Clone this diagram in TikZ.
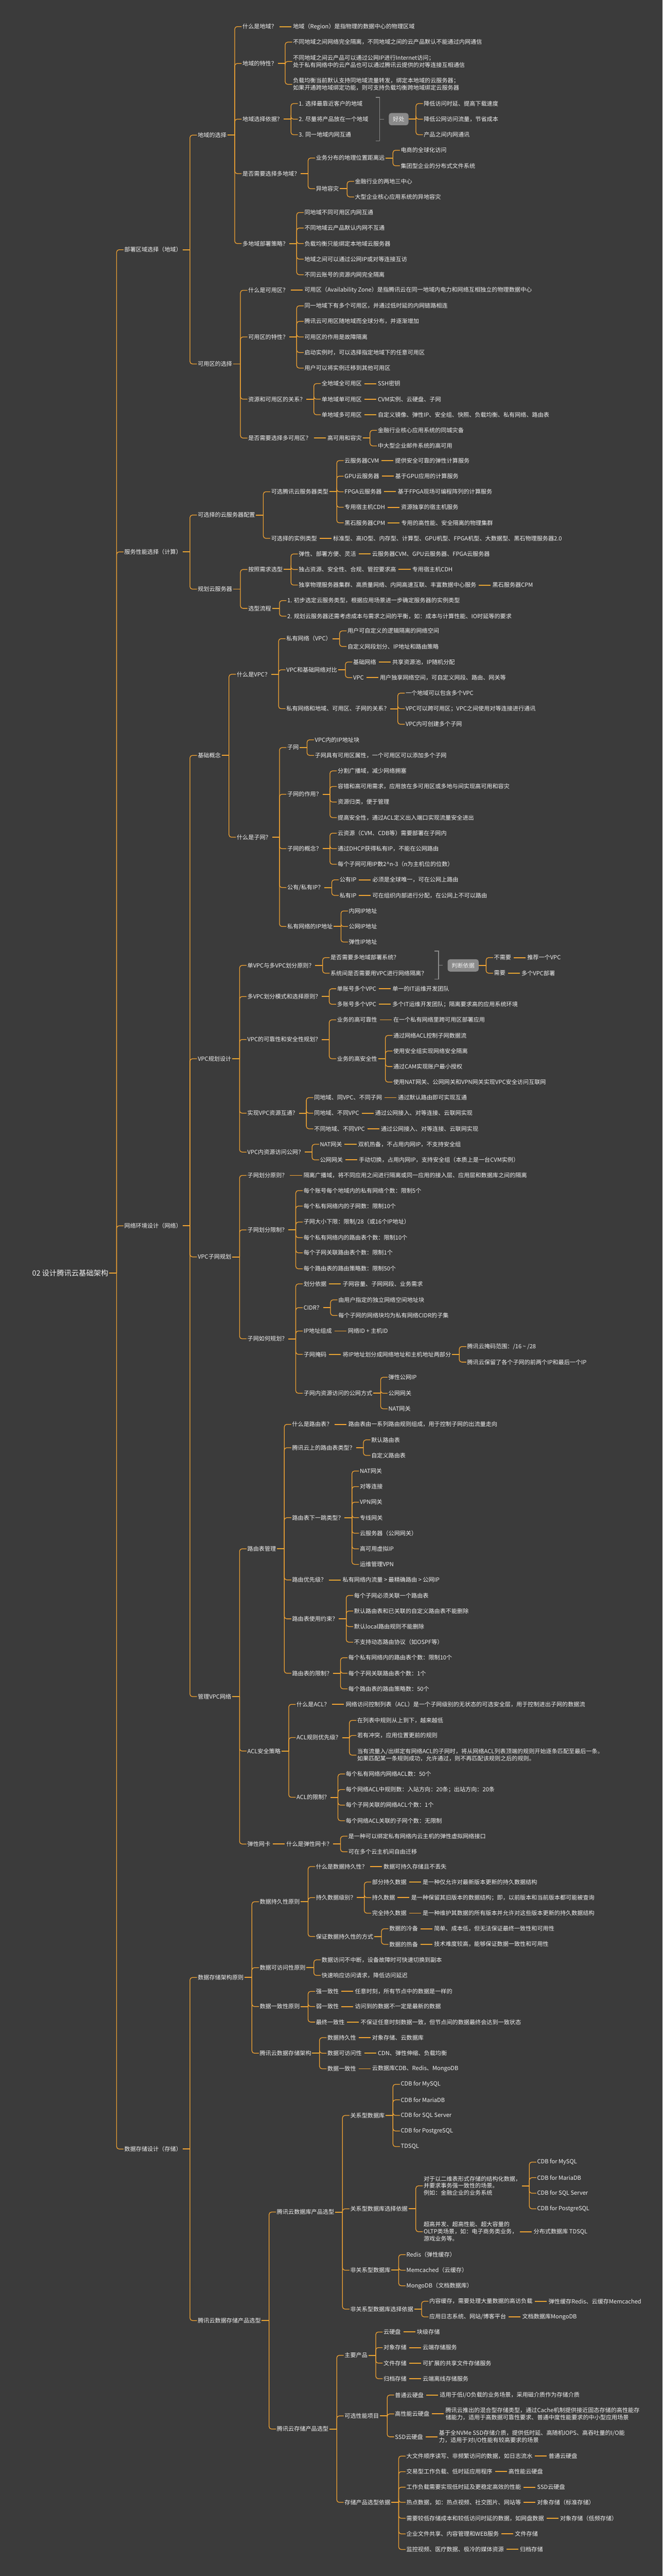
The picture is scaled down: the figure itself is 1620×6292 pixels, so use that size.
\documentclass[tikz,border=0pt]{standalone}
\usepackage{fontspec}
\newfontfamily\cjk{Noto Sans CJK SC}
\definecolor{bgc}{HTML}{3B3B3B}
\definecolor{linkc}{HTML}{F5A533}
\definecolor{txtc}{HTML}{F2F2F2}
\definecolor{sumc}{HTML}{8A8A8A}
\tikzset{
topic/.style={ % Every text of the map
anchor=west, inner sep=2pt, text=txtc, align=left,
font=\cjk\fontsize{14}{17.6}\selectfont},
root/.style={anchor=east, inner sep=2pt, text=txtc,
font=\cjk\fontsize{18}{22}\selectfont},
summary/.style={ % Grey summary box
anchor=west, fill=sumc, rounded corners=6pt, text=txtc,
inner xsep=10pt, minimum height=30pt, font=\cjk\fontsize{14}{17.6}\selectfont},
every edge/.style={draw=linkc, line width=1.6pt},
fork/.style={rounded corners=6pt, % Elbow from the bracket into a child
to path={([xshift=18pt]\tikztostart.east) |- (\tikztotarget.west)}},
solo/.style={line width=2.4pt, % Only one child
to path={([xshift=4pt]\tikztostart.east) -- ([xshift=-2pt]\tikztotarget.west)}},
stem/.style={draw=linkc, line width=2.4pt},
brace/.style={draw=sumc, line width=1.6pt}}
\begin{document}
\begin{tikzpicture}[x=1pt,y=-1pt]
\useasboundingbox (0,0) rectangle (1620,6292);
\fill[bgc] (0,0) rectangle (1620,6292);
\node[root] (root) at (267,3110) {02 设计腾讯云基础架构};
\node[topic] (a) at ([xshift=35pt]root.east |- 0,610) {部署区域选择（地域）};
\node[topic] (b) at ([xshift=35pt]root.east |- 0,1348) {服务性能选择（计算）};
\node[topic] (c) at ([xshift=35pt]root.east |- 0,2994) {网络环境设计（网络）};
\node[topic] (d) at ([xshift=35pt]root.east |- 0,5249) {数据存储设计（存储）};
\node[topic] (a1) at ([xshift=35pt]a.east |- 0,330) {地域的选择};
\node[topic] (a2) at ([xshift=35pt]a.east |- 0,889) {可用区的选择};
\node[topic] (a11) at ([xshift=35pt]a1.east |- 0,65) {什么是地域？};
\node[topic] (a12) at ([xshift=35pt]a1.east |- 0,155) {地域的特性？};
\node[topic] (a13) at ([xshift=35pt]a1.east |- 0,291) {地域选择依据？};
\node[topic] (a14) at ([xshift=35pt]a1.east |- 0,424) {是否需要选择多地域？};
\node[topic] (a15) at ([xshift=35pt]a1.east |- 0,595) {多地域部署策略？};
\node[topic] (a111) at ([xshift=35pt]a11.east |- 0,65) {地域（Region）是指物理的数据中心的物理区域};
\node[topic] (a121) at ([xshift=35pt]a12.east |- 0,103) {不同地域之间网络完全隔离，不同地域之间的云产品默认不能通过内网通信};
\node[topic] (a122) at ([xshift=35pt]a12.east |- 0,150) {不同地域之间云产品可以通过公网IP进行Internet访问；\\处于私有网络中的云产品也可以通过腾讯云提供的对等连接互相通信};
\node[topic] (a123) at ([xshift=35pt]a12.east |- 0,206) {负载均衡当前默认支持同地域流量转发，绑定本地域的云服务器；\\如果开通跨地域绑定功能，则可支持负载均衡跨地域绑定云服务器};
\node[topic] (a131) at ([xshift=35pt]a13.east |- 0,253) {1. 选择最靠近客户的地域};
\node[topic] (a132) at ([xshift=35pt]a13.east |- 0,291) {2. 尽量将产品放在一个地域};
\node[topic] (a133) at ([xshift=35pt]a13.east |- 0,329) {3. 同一地域内网互通};
\node[summary] (a13s) at ([xshift=48pt]a132.east |- 0,291) {好处};
\node[topic] (a13s1) at ([xshift=35pt]a13s.east |- 0,253) {降低访问时延、提高下载速度};
\node[topic] (a13s2) at ([xshift=35pt]a13s.east |- 0,291) {降低公网访问流量，节省成本};
\node[topic] (a13s3) at ([xshift=35pt]a13s.east |- 0,329) {产品之间内网通讯};
\node[topic] (a141) at ([xshift=35pt]a14.east |- 0,386) {业务分布的地理位置距离远};
\node[topic] (a142) at ([xshift=35pt]a14.east |- 0,461) {异地容灾};
\node[topic] (a1411) at ([xshift=35pt]a141.east |- 0,367) {电商的全球化访问};
\node[topic] (a1412) at ([xshift=35pt]a141.east |- 0,405) {集团型企业的分布式文件系统};
\node[topic] (a1421) at ([xshift=35pt]a142.east |- 0,443) {金融行业的两地三中心};
\node[topic] (a1422) at ([xshift=35pt]a142.east |- 0,481) {大型企业核心应用系统的异地容灾};
\node[topic] (a151) at ([xshift=35pt]a15.east |- 0,519) {同地域不同可用区内网互通};
\node[topic] (a152) at ([xshift=35pt]a15.east |- 0,557) {不同地域云产品默认内网不互通};
\node[topic] (a153) at ([xshift=35pt]a15.east |- 0,595) {负载均衡只能绑定本地域云服务器};
\node[topic] (a154) at ([xshift=35pt]a15.east |- 0,633) {地域之间可以通过公网IP或对等连接互访};
\node[topic] (a155) at ([xshift=35pt]a15.east |- 0,671) {不同云账号的资源内网完全隔离};
\node[topic] (a21) at ([xshift=35pt]a2.east |- 0,709) {什么是可用区？};
\node[topic] (a22) at ([xshift=35pt]a2.east |- 0,823) {可用区的特性？};
\node[topic] (a23) at ([xshift=35pt]a2.east |- 0,975) {资源和可用区的关系？};
\node[topic] (a24) at ([xshift=35pt]a2.east |- 0,1070) {是否需要选择多可用区？};
\node[topic] (a211) at ([xshift=35pt]a21.east |- 0,709) {可用区（Availability Zone）是指腾讯云在同一地域内电力和网络互相独立的物理数据中心};
\node[topic] (a221) at ([xshift=35pt]a22.east |- 0,747) {同一地域下有多个可用区，并通过低时延的内网链路相连};
\node[topic] (a222) at ([xshift=35pt]a22.east |- 0,785) {腾讯云可用区随地域而全球分布，并逐渐增加};
\node[topic] (a223) at ([xshift=35pt]a22.east |- 0,823) {可用区的作用是故障隔离};
\node[topic] (a224) at ([xshift=35pt]a22.east |- 0,861) {启动实例时，可以选择指定地域下的任意可用区};
\node[topic] (a225) at ([xshift=35pt]a22.east |- 0,899) {用户可以将实例迁移到其他可用区};
\node[topic] (a231) at ([xshift=35pt]a23.east |- 0,937) {全地域全可用区};
\node[topic] (a232) at ([xshift=35pt]a23.east |- 0,975) {单地域单可用区};
\node[topic] (a233) at ([xshift=35pt]a23.east |- 0,1013) {单地域多可用区};
\node[topic] (a2311) at ([xshift=35pt]a231.east |- 0,937) {SSH密钥};
\node[topic] (a2321) at ([xshift=35pt]a232.east |- 0,975) {CVM实例、云硬盘、子网};
\node[topic] (a2331) at ([xshift=35pt]a233.east |- 0,1013) {自定义镜像、弹性IP、安全组、快照、负载均衡、私有网络、路由表};
\node[topic] (a241) at ([xshift=35pt]a24.east |- 0,1070) {高可用和容灾};
\node[topic] (a2411) at ([xshift=35pt]a241.east |- 0,1051) {金融行业核心应用系统的同城灾备};
\node[topic] (a2412) at ([xshift=35pt]a241.east |- 0,1089) {中大型企业邮件系统的高可用};
\node[topic] (b1) at ([xshift=35pt]b.east |- 0,1258) {可选择的云服务器配置};
\node[topic] (b2) at ([xshift=35pt]b.east |- 0,1439) {规划云服务器};
\node[topic] (b11) at ([xshift=35pt]b1.east |- 0,1201) {可选腾讯云服务器类型};
\node[topic] (b12) at ([xshift=35pt]b1.east |- 0,1315) {可选择的实例类型};
\node[topic] (b111) at ([xshift=35pt]b11.east |- 0,1125) {云服务器CVM};
\node[topic] (b112) at ([xshift=35pt]b11.east |- 0,1163) {GPU云服务器};
\node[topic] (b113) at ([xshift=35pt]b11.east |- 0,1201) {FPGA云服务器};
\node[topic] (b114) at ([xshift=35pt]b11.east |- 0,1239) {专用宿主机CDH};
\node[topic] (b115) at ([xshift=35pt]b11.east |- 0,1277) {黑石服务器CPM};
\node[topic] (b1111) at ([xshift=35pt]b111.east |- 0,1125) {提供安全可靠的弹性计算服务};
\node[topic] (b1121) at ([xshift=35pt]b112.east |- 0,1163) {基于GPU应用的计算服务};
\node[topic] (b1131) at ([xshift=35pt]b113.east |- 0,1201) {基于FPGA现场可编程阵列的计算服务};
\node[topic] (b1141) at ([xshift=35pt]b114.east |- 0,1239) {资源独享的宿主机服务};
\node[topic] (b1151) at ([xshift=35pt]b115.east |- 0,1277) {专用的高性能、安全隔离的物理集群};
\node[topic] (b121) at ([xshift=35pt]b12.east |- 0,1315) {标准型、高IO型、内存型、计算型、GPU机型、FPGA机型、大数据型、黑石物理服务器2.0};
\node[topic] (b21) at ([xshift=35pt]b2.east |- 0,1391) {按照需求选型};
\node[topic] (b22) at ([xshift=35pt]b2.east |- 0,1486) {选型流程};
\node[topic] (b211) at ([xshift=35pt]b21.east |- 0,1353) {弹性、部署方便、灵活};
\node[topic] (b212) at ([xshift=35pt]b21.east |- 0,1391) {独占资源、安全性、合规、管控要求高};
\node[topic] (b213) at ([xshift=35pt]b21.east |- 0,1429) {独享物理服务器集群、高质量网络、内网高速互联、丰富数据中心服务};
\node[topic] (b2111) at ([xshift=35pt]b211.east |- 0,1353) {云服务器CVM、GPU云服务器、FPGA云服务器};
\node[topic] (b2121) at ([xshift=35pt]b212.east |- 0,1391) {专用宿主机CDH};
\node[topic] (b2131) at ([xshift=35pt]b213.east |- 0,1429) {黑石服务器CPM};
\node[topic] (b221) at ([xshift=35pt]b22.east |- 0,1467) {1. 初步选定云服务类型，根据应用场景进一步确定服务器的实例类型};
\node[topic] (b222) at ([xshift=35pt]b22.east |- 0,1505) {2. 规划云服务器还需考虑成本与需求之间的平衡，如：成本与计算性能、IO时延等的要求};
\node[topic] (c1) at ([xshift=35pt]c.east |- 0,1845) {基础概念};
\node[topic] (c2) at ([xshift=35pt]c.east |- 0,2586) {VPC规划设计};
\node[topic] (c3) at ([xshift=35pt]c.east |- 0,3070) {VPC子网规划};
\node[topic] (c4) at ([xshift=35pt]c.east |- 0,4144) {管理VPC网络};
\node[topic] (c11) at ([xshift=35pt]c1.east |- 0,1647) {什么是VPC？};
\node[topic] (c12) at ([xshift=35pt]c1.east |- 0,2045) {什么是子网？};
\node[topic] (c111) at ([xshift=35pt]c11.east |- 0,1560) {私有网络（VPC）};
\node[topic] (c112) at ([xshift=35pt]c11.east |- 0,1636) {VPC和基础网络对比};
\node[topic] (c113) at ([xshift=35pt]c11.east |- 0,1731) {私有网络和地域、可用区、子网的关系？};
\node[topic] (c1111) at ([xshift=35pt]c111.east |- 0,1541) {用户可自定义的逻辑隔离的网络空间};
\node[topic] (c1112) at ([xshift=35pt]c111.east |- 0,1579) {自定义网段划分、IP地址和路由策略};
\node[topic] (c1121) at ([xshift=35pt]c112.east |- 0,1617) {基础网络};
\node[topic] (c1122) at ([xshift=35pt]c112.east |- 0,1655) {VPC};
\node[topic] (c11211) at ([xshift=35pt]c1121.east |- 0,1617) {共享资源池，IP随机分配};
\node[topic] (c11221) at ([xshift=35pt]c1122.east |- 0,1655) {用户独享网络空间，可自定义网段、路由、网关等};
\node[topic] (c1131) at ([xshift=35pt]c113.east |- 0,1693) {一个地域可以包含多个VPC};
\node[topic] (c1132) at ([xshift=35pt]c113.east |- 0,1731) {VPC可以跨可用区；VPC之间使用对等连接进行通讯};
\node[topic] (c1133) at ([xshift=35pt]c113.east |- 0,1769) {VPC内可创建多个子网};
\node[topic] (c121) at ([xshift=35pt]c12.east |- 0,1826) {子网};
\node[topic] (c122) at ([xshift=35pt]c12.east |- 0,1940) {子网的作用？};
\node[topic] (c123) at ([xshift=35pt]c12.east |- 0,2073) {子网的概念？};
\node[topic] (c124) at ([xshift=35pt]c12.east |- 0,2168) {公有/私有IP？};
\node[topic] (c125) at ([xshift=35pt]c12.east |- 0,2263) {私有网络的IP地址};
\node[topic] (c1211) at ([xshift=35pt]c121.east |- 0,1807) {VPC内的IP地址块};
\node[topic] (c1212) at ([xshift=35pt]c121.east |- 0,1845) {子网具有可用区属性，一个可用区可以添加多个子网};
\node[topic] (c1221) at ([xshift=35pt]c122.east |- 0,1883) {分割广播域，减少网络拥塞};
\node[topic] (c1222) at ([xshift=35pt]c122.east |- 0,1921) {容错和高可用需求，应用放在多可用区或多地与间实现高可用和容灾};
\node[topic] (c1223) at ([xshift=35pt]c122.east |- 0,1959) {资源归类，便于管理};
\node[topic] (c1224) at ([xshift=35pt]c122.east |- 0,1997) {提高安全性，通过ACL定义出入端口实现流量安全进出};
\node[topic] (c1231) at ([xshift=35pt]c123.east |- 0,2035) {云资源（CVM、CDB等）需要部署在子网内};
\node[topic] (c1232) at ([xshift=35pt]c123.east |- 0,2073) {通过DHCP获得私有IP，不能在公网路由};
\node[topic] (c1233) at ([xshift=35pt]c123.east |- 0,2111) {每个子网可用IP数2\textasciicircum n-3（n为主机位的位数）};
\node[topic] (c1241) at ([xshift=35pt]c124.east |- 0,2149) {公有IP};
\node[topic] (c1242) at ([xshift=35pt]c124.east |- 0,2187) {私有IP};
\node[topic] (c12411) at ([xshift=35pt]c1241.east |- 0,2149) {必须是全球唯一，可在公网上路由};
\node[topic] (c12421) at ([xshift=35pt]c1242.east |- 0,2187) {可在组织内部进行分配，在公网上不可以路由};
\node[topic] (c1251) at ([xshift=35pt]c125.east |- 0,2225) {内网IP地址};
\node[topic] (c1252) at ([xshift=35pt]c125.east |- 0,2263) {公网IP地址};
\node[topic] (c1253) at ([xshift=35pt]c125.east |- 0,2301) {弹性IP地址};
\node[topic] (c21) at ([xshift=35pt]c2.east |- 0,2358) {单VPC与多VPC划分原则？};
\node[topic] (c22) at ([xshift=35pt]c2.east |- 0,2434) {多VPC划分模式和选择原则？};
\node[topic] (c23) at ([xshift=35pt]c2.east |- 0,2539) {VPC的可靠性和安全性规划？};
\node[topic] (c24) at ([xshift=35pt]c2.east |- 0,2719) {实现VPC资源互通？};
\node[topic] (c25) at ([xshift=35pt]c2.east |- 0,2814) {VPC内资源访问公网？};
\node[topic] (c211) at ([xshift=35pt]c21.east |- 0,2339) {是否需要多地域部署系统？};
\node[topic] (c212) at ([xshift=35pt]c21.east |- 0,2377) {系统间是否需要用VPC进行网络隔离？};
\node[summary] (c21s) at ([xshift=48pt]c212.east |- 0,2358) {判断依据};
\node[topic] (c21s1) at ([xshift=35pt]c21s.east |- 0,2339) {不需要};
\node[topic] (c21s2) at ([xshift=35pt]c21s.east |- 0,2377) {需要};
\node[topic] (c21s11) at ([xshift=35pt]c21s1.east |- 0,2339) {推荐一个VPC};
\node[topic] (c21s21) at ([xshift=35pt]c21s2.east |- 0,2377) {多个VPC部署};
\node[topic] (c221) at ([xshift=35pt]c22.east |- 0,2415) {单账号多个VPC};
\node[topic] (c222) at ([xshift=35pt]c22.east |- 0,2453) {多账号多个VPC};
\node[topic] (c2211) at ([xshift=35pt]c221.east |- 0,2415) {单一的IT运维开发团队};
\node[topic] (c2221) at ([xshift=35pt]c222.east |- 0,2453) {多个IT运维开发团队；隔离要求高的应用系统环境};
\node[topic] (c231) at ([xshift=35pt]c23.east |- 0,2491) {业务的高可靠性};
\node[topic] (c232) at ([xshift=35pt]c23.east |- 0,2586) {业务的高安全性};
\node[topic] (c2311) at ([xshift=35pt]c231.east |- 0,2491) {在一个私有网络里跨可用区部署应用};
\node[topic] (c2321) at ([xshift=35pt]c232.east |- 0,2529) {通过网络ACL控制子网数据流};
\node[topic] (c2322) at ([xshift=35pt]c232.east |- 0,2567) {使用安全组实现网络安全隔离};
\node[topic] (c2323) at ([xshift=35pt]c232.east |- 0,2605) {通过CAM实现账户最小授权};
\node[topic] (c2324) at ([xshift=35pt]c232.east |- 0,2643) {使用NAT网关、公网网关和VPN网关实现VPC安全访问互联网};
\node[topic] (c241) at ([xshift=35pt]c24.east |- 0,2681) {同地域、同VPC、不同子网};
\node[topic] (c242) at ([xshift=35pt]c24.east |- 0,2719) {同地域、不同VPC};
\node[topic] (c243) at ([xshift=35pt]c24.east |- 0,2757) {不同地域、不同VPC};
\node[topic] (c2411) at ([xshift=35pt]c241.east |- 0,2681) {通过默认路由即可实现互通};
\node[topic] (c2421) at ([xshift=35pt]c242.east |- 0,2719) {通过公网接入、对等连接、云联网实现};
\node[topic] (c2431) at ([xshift=35pt]c243.east |- 0,2757) {通过公网接入、对等连接、云联网实现};
\node[topic] (c251) at ([xshift=35pt]c25.east |- 0,2795) {NAT网关};
\node[topic] (c252) at ([xshift=35pt]c25.east |- 0,2833) {公网网关};
\node[topic] (c2511) at ([xshift=35pt]c251.east |- 0,2795) {双机热备，不占用内网IP，不支持安全组};
\node[topic] (c2521) at ([xshift=35pt]c252.east |- 0,2833) {手动切换，占用内网IP，支持安全组（本质上是一台CVM实例）};
\node[topic] (c31) at ([xshift=35pt]c3.east |- 0,2871) {子网划分原则？};
\node[topic] (c32) at ([xshift=35pt]c3.east |- 0,3004) {子网划分限制？};
\node[topic] (c33) at ([xshift=35pt]c3.east |- 0,3270) {子网如何规划？};
\node[topic] (c311) at ([xshift=35pt]c31.east |- 0,2871) {隔离广播域，将不同应用之间进行隔离或同一应用的接入层、应用层和数据库之间的隔离};
\node[topic] (c321) at ([xshift=35pt]c32.east |- 0,2908) {每个账号每个地域内的私有网络个数：限制5个};
\node[topic] (c322) at ([xshift=35pt]c32.east |- 0,2946) {每个私有网络内的子网数：限制10个};
\node[topic] (c323) at ([xshift=35pt]c32.east |- 0,2985) {子网大小下限：限制/28（或16个IP地址）};
\node[topic] (c324) at ([xshift=35pt]c32.east |- 0,3023) {每个私有网络内的路由表个数：限制10个};
\node[topic] (c325) at ([xshift=35pt]c32.east |- 0,3060) {每个子网关联路由表个数：限制1个};
\node[topic] (c326) at ([xshift=35pt]c32.east |- 0,3099) {每个路由表的路由策略数：限制50个};
\node[topic] (c331) at ([xshift=35pt]c33.east |- 0,3136) {划分依据};
\node[topic] (c332) at ([xshift=35pt]c33.east |- 0,3194) {CIDR？};
\node[topic] (c333) at ([xshift=35pt]c33.east |- 0,3251) {IP地址组成};
\node[topic] (c334) at ([xshift=35pt]c33.east |- 0,3308) {子网掩码};
\node[topic] (c335) at ([xshift=35pt]c33.east |- 0,3403) {子网内资源访问的公网方式};
\node[topic] (c3311) at ([xshift=35pt]c331.east |- 0,3136) {子网容量、子网网段、业务需求};
\node[topic] (c3321) at ([xshift=35pt]c332.east |- 0,3175) {由用户指定的独立网络空间地址块};
\node[topic] (c3322) at ([xshift=35pt]c332.east |- 0,3213) {每个子网的网络块均为私有网络CIDR的子集};
\node[topic] (c3331) at ([xshift=35pt]c333.east |- 0,3251) {网络ID + 主机ID};
\node[topic] (c3341) at ([xshift=35pt]c334.east |- 0,3308) {将IP地址划分成网络地址和主机地址两部分};
\node[topic] (c33411) at ([xshift=35pt]c3341.east |- 0,3289) {腾讯云掩码范围：/16 \textasciitilde{} /28};
\node[topic] (c33412) at ([xshift=35pt]c3341.east |- 0,3327) {腾讯云保留了各个子网的前两个IP和最后一个IP};
\node[topic] (c3351) at ([xshift=35pt]c335.east |- 0,3364) {弹性公网IP};
\node[topic] (c3352) at ([xshift=35pt]c335.east |- 0,3403) {公网网关};
\node[topic] (c3353) at ([xshift=35pt]c335.east |- 0,3441) {NAT网关};
\node[topic] (c41) at ([xshift=35pt]c4.east |- 0,3783) {路由表管理};
\node[topic] (c42) at ([xshift=35pt]c4.east |- 0,4277) {ACL安全策略};
\node[topic] (c43) at ([xshift=35pt]c4.east |- 0,4504) {弹性网卡};
\node[topic] (c411) at ([xshift=35pt]c41.east |- 0,3479) {什么是路由表？};
\node[topic] (c412) at ([xshift=35pt]c41.east |- 0,3536) {腾讯云上的路由表类型？};
\node[topic] (c413) at ([xshift=35pt]c41.east |- 0,3707) {路由表下一跳类型？};
\node[topic] (c414) at ([xshift=35pt]c41.east |- 0,3859) {路由优先级？};
\node[topic] (c415) at ([xshift=35pt]c41.east |- 0,3954) {路由表使用约束？};
\node[topic] (c416) at ([xshift=35pt]c41.east |- 0,4087) {路由表的限制？};
\node[topic] (c4111) at ([xshift=35pt]c411.east |- 0,3479) {路由表由一系列路由规则组成，用于控制子网的出流量走向};
\node[topic] (c4121) at ([xshift=35pt]c412.east |- 0,3517) {默认路由表};
\node[topic] (c4122) at ([xshift=35pt]c412.east |- 0,3555) {自定义路由表};
\node[topic] (c4131) at ([xshift=35pt]c413.east |- 0,3593) {NAT网关};
\node[topic] (c4132) at ([xshift=35pt]c413.east |- 0,3631) {对等连接};
\node[topic] (c4133) at ([xshift=35pt]c413.east |- 0,3669) {VPN网关};
\node[topic] (c4134) at ([xshift=35pt]c413.east |- 0,3707) {专线网关};
\node[topic] (c4135) at ([xshift=35pt]c413.east |- 0,3745) {云服务器（公网网关）};
\node[topic] (c4136) at ([xshift=35pt]c413.east |- 0,3783) {高可用虚拟IP};
\node[topic] (c4137) at ([xshift=35pt]c413.east |- 0,3821) {运维管理VPN};
\node[topic] (c4141) at ([xshift=35pt]c414.east |- 0,3859) {私有网络内流量 > 最精确路由 > 公网IP};
\node[topic] (c4151) at ([xshift=35pt]c415.east |- 0,3897) {每个子网必须关联一个路由表};
\node[topic] (c4152) at ([xshift=35pt]c415.east |- 0,3935) {默认路由表和已关联的自定义路由表不能删除};
\node[topic] (c4153) at ([xshift=35pt]c415.east |- 0,3973) {默认local路由规则不能删除};
\node[topic] (c4154) at ([xshift=35pt]c415.east |- 0,4011) {不支持动态路由协议（如OSPF等）};
\node[topic] (c4161) at ([xshift=35pt]c416.east |- 0,4049) {每个私有网络内的路由表个数：限制10个};
\node[topic] (c4162) at ([xshift=35pt]c416.east |- 0,4087) {每个子网关联路由表个数：1个};
\node[topic] (c4163) at ([xshift=35pt]c416.east |- 0,4125) {每个路由表的路由策略数：50个};
\node[topic] (c421) at ([xshift=35pt]c42.east |- 0,4163) {什么是ACL？};
\node[topic] (c422) at ([xshift=35pt]c42.east |- 0,4244) {ACL规则优先级？};
\node[topic] (c423) at ([xshift=35pt]c42.east |- 0,4390) {ACL的限制？};
\node[topic] (c4211) at ([xshift=35pt]c421.east |- 0,4163) {网络访问控制列表（ACL）是一个子网级别的无状态的可选安全层，用于控制进出子网的数据流};
\node[topic] (c4221) at ([xshift=35pt]c422.east |- 0,4202) {在列表中规则从上到下，越来越低};
\node[topic] (c4222) at ([xshift=35pt]c422.east |- 0,4239) {若有冲突，应用位置更前的规则};
\node[topic] (c4223) at ([xshift=35pt]c422.east |- 0,4287) {当有流量入/出绑定有网络ACL的子网时，将从网络ACL列表顶端的规则开始逐条匹配至最后一条。\\如果匹配某一条规则成功，允许通过，则不再匹配该规则之后的规则。};
\node[topic] (c4231) at ([xshift=35pt]c423.east |- 0,4333) {每个私有网络内网络ACL数：50个};
\node[topic] (c4232) at ([xshift=35pt]c423.east |- 0,4371) {每个网络ACL中规则数：入站方向：20条；出站方向：20条};
\node[topic] (c4233) at ([xshift=35pt]c423.east |- 0,4409) {每个子网关联的网络ACL个数：1个};
\node[topic] (c4234) at ([xshift=35pt]c423.east |- 0,4447) {每个网络ACL关联的子网个数：无限制};
\node[topic] (c431) at ([xshift=35pt]c43.east |- 0,4504) {什么是弹性网卡？};
\node[topic] (c4311) at ([xshift=35pt]c431.east |- 0,4485) {是一种可以绑定私有网络内云主机的弹性虚拟网络接口};
\node[topic] (c4312) at ([xshift=35pt]c431.east |- 0,4523) {可在多个云主机间自由迁移};
\node[topic] (d1) at ([xshift=35pt]d.east |- 0,4830) {数据存储架构原则};
\node[topic] (d2) at ([xshift=35pt]d.east |- 0,5668) {腾讯云数据存储产品选型};
\node[topic] (d11) at ([xshift=35pt]d1.east |- 0,4645) {数据持久性原则};
\node[topic] (d12) at ([xshift=35pt]d1.east |- 0,4806) {数据可访问性原则};
\node[topic] (d13) at ([xshift=35pt]d1.east |- 0,4901) {数据一致性原则};
\node[topic] (d14) at ([xshift=35pt]d1.east |- 0,5015) {腾讯云数据存储架构};
\node[topic] (d111) at ([xshift=35pt]d11.east |- 0,4559) {什么是数据持久性？};
\node[topic] (d112) at ([xshift=35pt]d11.east |- 0,4635) {持久数据级别？};
\node[topic] (d113) at ([xshift=35pt]d11.east |- 0,4730) {保证数据持久性的方式};
\node[topic] (d1111) at ([xshift=35pt]d111.east |- 0,4559) {数据可持久存储且不丢失};
\node[topic] (d1121) at ([xshift=35pt]d112.east |- 0,4597) {部分持久数据};
\node[topic] (d1122) at ([xshift=35pt]d112.east |- 0,4635) {持久数据};
\node[topic] (d1123) at ([xshift=35pt]d112.east |- 0,4673) {完全持久数据};
\node[topic] (d11211) at ([xshift=35pt]d1121.east |- 0,4597) {是一种仅允许对最新版本更新的持久数据结构};
\node[topic] (d11221) at ([xshift=35pt]d1122.east |- 0,4635) {是一种保留其旧版本的数据结构；即，以前版本和当前版本都可能被查询};
\node[topic] (d11231) at ([xshift=35pt]d1123.east |- 0,4673) {是一种维护其数据的所有版本并允许对这些版本更新的持久数据结构};
\node[topic] (d1131) at ([xshift=35pt]d113.east |- 0,4711) {数据的冷备};
\node[topic] (d1132) at ([xshift=35pt]d113.east |- 0,4749) {数据的热备};
\node[topic] (d11311) at ([xshift=35pt]d1131.east |- 0,4711) {简单、成本低，但无法保证最终一致性和可用性};
\node[topic] (d11321) at ([xshift=35pt]d1132.east |- 0,4749) {技术难度较高，能够保证数据一致性和可用性};
\node[topic] (d121) at ([xshift=35pt]d12.east |- 0,4787) {数据访问不中断，设备故障时可快速切换到副本};
\node[topic] (d122) at ([xshift=35pt]d12.east |- 0,4825) {快速响应访问请求，降低访问延迟};
\node[topic] (d131) at ([xshift=35pt]d13.east |- 0,4864) {强一致性};
\node[topic] (d132) at ([xshift=35pt]d13.east |- 0,4901) {弱一致性};
\node[topic] (d133) at ([xshift=35pt]d13.east |- 0,4939) {最终一致性};
\node[topic] (d1311) at ([xshift=35pt]d131.east |- 0,4864) {任意时刻，所有节点中的数据是一样的};
\node[topic] (d1321) at ([xshift=35pt]d132.east |- 0,4901) {访问到的数据不一定是最新的数据};
\node[topic] (d1331) at ([xshift=35pt]d133.east |- 0,4939) {不保证任意时刻数据一致，但节点间的数据最终会达到一致状态};
\node[topic] (d141) at ([xshift=35pt]d14.east |- 0,4977) {数据持久性};
\node[topic] (d142) at ([xshift=35pt]d14.east |- 0,5015) {数据可访问性};
\node[topic] (d143) at ([xshift=35pt]d14.east |- 0,5053) {数据一致性};
\node[topic] (d1411) at ([xshift=35pt]d141.east |- 0,4977) {对象存储、云数据库};
\node[topic] (d1421) at ([xshift=35pt]d142.east |- 0,5015) {CDN、弹性伸缩、负载均衡};
\node[topic] (d1431) at ([xshift=35pt]d143.east |- 0,5053) {云数据库CDB、Redis、MongoDB};
\node[topic] (d21) at ([xshift=35pt]d2.east |- 0,5403) {腾讯云数据库产品选型};
\node[topic] (d22) at ([xshift=35pt]d2.east |- 0,5933) {腾讯云存储产品选型};
\node[topic] (d211) at ([xshift=35pt]d21.east |- 0,5167) {关系型数据库};
\node[topic] (d212) at ([xshift=35pt]d21.east |- 0,5395) {关系型数据库选择依据};
\node[topic] (d213) at ([xshift=35pt]d21.east |- 0,5545) {非关系型数据库};
\node[topic] (d214) at ([xshift=35pt]d21.east |- 0,5640) {非关系型数据库选择依据};
\node[topic] (d2111) at ([xshift=35pt]d211.east |- 0,5091) {CDB for MySQL};
\node[topic] (d2112) at ([xshift=35pt]d211.east |- 0,5129) {CDB for MariaDB};
\node[topic] (d2113) at ([xshift=35pt]d211.east |- 0,5167) {CDB for SQL Server};
\node[topic] (d2114) at ([xshift=35pt]d211.east |- 0,5205) {CDB for PostgreSQL};
\node[topic] (d2115) at ([xshift=35pt]d211.east |- 0,5243) {TDSQL};
\node[topic] (d2121) at ([xshift=35pt]d212.east |- 0,5339) {对于以二维表形式存储的结构化数据，\\并要求事务强一致性的场景。\\例如：金融企业的业务系统};
\node[topic] (d2122) at ([xshift=35pt]d212.east |- 0,5451) {超高并发、超高性能、超大容量的\\OLTP类场景，如：电子商务类业务，\\游戏业务等。};
\node[topic] (d21211) at ([xshift=35pt]d2121.east |- 0,5281) {CDB for MySQL};
\node[topic] (d21212) at ([xshift=35pt]d2121.east |- 0,5319) {CDB for MariaDB};
\node[topic] (d21213) at ([xshift=35pt]d2121.east |- 0,5357) {CDB for SQL Server};
\node[topic] (d21214) at ([xshift=35pt]d2121.east |- 0,5395) {CDB for PostgreSQL};
\node[topic] (d21221) at ([xshift=35pt]d2122.east |- 0,5451) {分布式数据库 TDSQL};
\node[topic] (d2131) at ([xshift=35pt]d213.east |- 0,5507) {Redis（弹性缓存）};
\node[topic] (d2132) at ([xshift=35pt]d213.east |- 0,5545) {Memcached（云缓存）};
\node[topic] (d2133) at ([xshift=35pt]d213.east |- 0,5583) {MongoDB（文档数据库）};
\node[topic] (d2141) at ([xshift=35pt]d214.east |- 0,5621) {内容缓存，需要处理大量数据的高访负载};
\node[topic] (d2142) at ([xshift=35pt]d214.east |- 0,5659) {应用日志系统、网站/博客平台};
\node[topic] (d21411) at ([xshift=35pt]d2141.east |- 0,5621) {弹性缓存Redis、云缓存Memcached};
\node[topic] (d21421) at ([xshift=35pt]d2142.east |- 0,5659) {文档数据库MongoDB};
\node[topic] (d221) at ([xshift=35pt]d22.east |- 0,5753) {主要产品};
\node[topic] (d222) at ([xshift=35pt]d22.east |- 0,5901) {可选性能项目};
\node[topic] (d223) at ([xshift=35pt]d22.east |- 0,6112) {存储产品选型依据};
\node[topic] (d2211) at ([xshift=35pt]d221.east |- 0,5696) {云硬盘};
\node[topic] (d2212) at ([xshift=35pt]d221.east |- 0,5734) {对象存储};
\node[topic] (d2213) at ([xshift=35pt]d221.east |- 0,5772) {文件存储};
\node[topic] (d2214) at ([xshift=35pt]d221.east |- 0,5810) {归档存储};
\node[topic] (d22111) at ([xshift=35pt]d2211.east |- 0,5696) {块级存储};
\node[topic] (d22121) at ([xshift=35pt]d2212.east |- 0,5734) {云端存储服务};
\node[topic] (d22131) at ([xshift=35pt]d2213.east |- 0,5772) {可扩展的共享文件存储服务};
\node[topic] (d22141) at ([xshift=35pt]d2214.east |- 0,5810) {云端离线存储服务};
\node[topic] (d2221) at ([xshift=35pt]d222.east |- 0,5850) {普通云硬盘};
\node[topic] (d2222) at ([xshift=35pt]d222.east |- 0,5896) {高性能云硬盘};
\node[topic] (d2223) at ([xshift=35pt]d222.east |- 0,5952) {SSD云硬盘};
\node[topic] (d22211) at ([xshift=35pt]d2221.east |- 0,5850) {适用于低I/O负载的业务场景，采用磁介质作为存储介质};
\node[topic] (d22221) at ([xshift=35pt]d2222.east |- 0,5896) {腾讯云推出的混合型存储类型，通过Cache机制提供接近固态存储的高性能存\\储能力，适用于高数据可靠性要求、普通中度性能要求的中小型应用场景};
\node[topic] (d22231) at ([xshift=35pt]d2223.east |- 0,5952) {基于全NVMe SSD存储介质，提供低时延、高随机IOPS、高吞吐量的I/O能\\力，适用于对I/O性能有较高要求的场景};
\node[topic] (d2231) at ([xshift=35pt]d223.east |- 0,5999) {大文件顺序读写、非频繁访问的数据，如日志流水};
\node[topic] (d2232) at ([xshift=35pt]d223.east |- 0,6037) {交易型工作负载、低时延应用程序};
\node[topic] (d2233) at ([xshift=35pt]d223.east |- 0,6075) {工作负载需要实现低时延及更稳定高效的性能};
\node[topic] (d2234) at ([xshift=35pt]d223.east |- 0,6112) {热点数据，如：热点视频、社交图片、网站等};
\node[topic] (d2235) at ([xshift=35pt]d223.east |- 0,6151) {需要较低存储成本和较低访问时延的数据，如网盘数据};
\node[topic] (d2236) at ([xshift=35pt]d223.east |- 0,6189) {企业文件共享、内容管理和WEB服务};
\node[topic] (d2237) at ([xshift=35pt]d223.east |- 0,6227) {监控视频、医疗数据、极冷的媒体资源};
\node[topic] (d22311) at ([xshift=35pt]d2231.east |- 0,5999) {普通云硬盘};
\node[topic] (d22321) at ([xshift=35pt]d2232.east |- 0,6037) {高性能云硬盘};
\node[topic] (d22331) at ([xshift=35pt]d2233.east |- 0,6075) {SSD云硬盘};
\node[topic] (d22341) at ([xshift=35pt]d2234.east |- 0,6112) {对象存储（标准存储）};
\node[topic] (d22351) at ([xshift=35pt]d2235.east |- 0,6151) {对象存储（低频存储）};
\node[topic] (d22361) at ([xshift=35pt]d2236.east |- 0,6189) {文件存储};
\node[topic] (d22371) at ([xshift=35pt]d2237.east |- 0,6227) {归档存储};
\draw[stem] (root.east) -- ++(18pt,0) (root) edge[fork] (a) edge[fork] (b) edge[fork] (c) edge[fork] (d);
\draw[stem] (a.east) -- ++(18pt,0) (a) edge[fork] (a1) edge[fork] (a2);
\draw[stem] (a1.east) -- ++(18pt,0) (a1) edge[fork] (a11) edge[fork] (a12) edge[fork] (a13) edge[fork] (a14) edge[fork] (a15);
\draw (a11) edge[solo] (a111);
\draw[stem] (a12.east) -- ++(18pt,0) (a12) edge[fork] (a121) edge[fork] (a122) edge[fork] (a123);
\draw[stem] (a13.east) -- ++(18pt,0) (a13) edge[fork] (a131) edge[fork] (a132) edge[fork] (a133);
\coordinate (a13b) at ([xshift=-22pt]a13s.west);
\draw[brace] ([xshift=-10pt]a13b |- 0,238) -- (a13b |- 0,238) -- (a13b |- 0,344) -- ([xshift=-10pt]a13b |- 0,344) (a13b) -- ++(10pt,0);
\draw[stem] (a13s.east) -- ++(18pt,0) (a13s) edge[fork] (a13s1) edge[fork] (a13s2) edge[fork] (a13s3);
\draw[stem] (a14.east) -- ++(18pt,0) (a14) edge[fork] (a141) edge[fork] (a142);
\draw[stem] (a141.east) -- ++(18pt,0) (a141) edge[fork] (a1411) edge[fork] (a1412);
\draw[stem] (a142.east) -- ++(18pt,0) (a142) edge[fork] (a1421) edge[fork] (a1422);
\draw[stem] (a15.east) -- ++(18pt,0) (a15) edge[fork] (a151) edge[fork] (a152) edge[fork] (a153) edge[fork] (a154) edge[fork] (a155);
\draw[stem] (a2.east) -- ++(18pt,0) (a2) edge[fork] (a21) edge[fork] (a22) edge[fork] (a23) edge[fork] (a24);
\draw (a21) edge[solo] (a211);
\draw[stem] (a22.east) -- ++(18pt,0) (a22) edge[fork] (a221) edge[fork] (a222) edge[fork] (a223) edge[fork] (a224) edge[fork] (a225);
\draw[stem] (a23.east) -- ++(18pt,0) (a23) edge[fork] (a231) edge[fork] (a232) edge[fork] (a233);
\draw (a231) edge[solo] (a2311) (a232) edge[solo] (a2321) (a233) edge[solo] (a2331);
\draw (a24) edge[solo] (a241);
\draw[stem] (a241.east) -- ++(18pt,0) (a241) edge[fork] (a2411) edge[fork] (a2412);
\draw[stem] (b.east) -- ++(18pt,0) (b) edge[fork] (b1) edge[fork] (b2);
\draw[stem] (b1.east) -- ++(18pt,0) (b1) edge[fork] (b11) edge[fork] (b12);
\draw[stem] (b11.east) -- ++(18pt,0) (b11) edge[fork] (b111) edge[fork] (b112) edge[fork] (b113) edge[fork] (b114) edge[fork] (b115);
\draw (b111) edge[solo] (b1111) (b112) edge[solo] (b1121) (b113) edge[solo] (b1131) (b114) edge[solo] (b1141) (b115) edge[solo] (b1151);
\draw (b12) edge[solo] (b121);
\draw[stem] (b2.east) -- ++(18pt,0) (b2) edge[fork] (b21) edge[fork] (b22);
\draw[stem] (b21.east) -- ++(18pt,0) (b21) edge[fork] (b211) edge[fork] (b212) edge[fork] (b213);
\draw (b211) edge[solo] (b2111) (b212) edge[solo] (b2121) (b213) edge[solo] (b2131);
\draw[stem] (b22.east) -- ++(18pt,0) (b22) edge[fork] (b221) edge[fork] (b222);
\draw[stem] (c.east) -- ++(18pt,0) (c) edge[fork] (c1) edge[fork] (c2) edge[fork] (c3) edge[fork] (c4);
\draw[stem] (c1.east) -- ++(18pt,0) (c1) edge[fork] (c11) edge[fork] (c12);
\draw[stem] (c11.east) -- ++(18pt,0) (c11) edge[fork] (c111) edge[fork] (c112) edge[fork] (c113);
\draw[stem] (c111.east) -- ++(18pt,0) (c111) edge[fork] (c1111) edge[fork] (c1112);
\draw[stem] (c112.east) -- ++(18pt,0) (c112) edge[fork] (c1121) edge[fork] (c1122);
\draw (c1121) edge[solo] (c11211) (c1122) edge[solo] (c11221);
\draw[stem] (c113.east) -- ++(18pt,0) (c113) edge[fork] (c1131) edge[fork] (c1132) edge[fork] (c1133);
\draw[stem] (c12.east) -- ++(18pt,0) (c12) edge[fork] (c121) edge[fork] (c122) edge[fork] (c123) edge[fork] (c124) edge[fork] (c125);
\draw[stem] (c121.east) -- ++(18pt,0) (c121) edge[fork] (c1211) edge[fork] (c1212);
\draw[stem] (c122.east) -- ++(18pt,0) (c122) edge[fork] (c1221) edge[fork] (c1222) edge[fork] (c1223) edge[fork] (c1224);
\draw[stem] (c123.east) -- ++(18pt,0) (c123) edge[fork] (c1231) edge[fork] (c1232) edge[fork] (c1233);
\draw[stem] (c124.east) -- ++(18pt,0) (c124) edge[fork] (c1241) edge[fork] (c1242);
\draw (c1241) edge[solo] (c12411) (c1242) edge[solo] (c12421);
\draw[stem] (c125.east) -- ++(18pt,0) (c125) edge[fork] (c1251) edge[fork] (c1252) edge[fork] (c1253);
\draw[stem] (c2.east) -- ++(18pt,0) (c2) edge[fork] (c21) edge[fork] (c22) edge[fork] (c23) edge[fork] (c24) edge[fork] (c25);
\draw[stem] (c21.east) -- ++(18pt,0) (c21) edge[fork] (c211) edge[fork] (c212);
\coordinate (c21b) at ([xshift=-22pt]c21s.west);
\draw[brace] ([xshift=-10pt]c21b |- 0,2323) -- (c21b |- 0,2323) -- (c21b |- 0,2392) -- ([xshift=-10pt]c21b |- 0,2392) (c21b) -- ++(10pt,0);
\draw[stem] (c21s.east) -- ++(18pt,0) (c21s) edge[fork] (c21s1) edge[fork] (c21s2);
\draw (c21s1) edge[solo] (c21s11) (c21s2) edge[solo] (c21s21);
\draw[stem] (c22.east) -- ++(18pt,0) (c22) edge[fork] (c221) edge[fork] (c222);
\draw (c221) edge[solo] (c2211) (c222) edge[solo] (c2221);
\draw[stem] (c23.east) -- ++(18pt,0) (c23) edge[fork] (c231) edge[fork] (c232);
\draw (c231) edge[solo] (c2311);
\draw[stem] (c232.east) -- ++(18pt,0) (c232) edge[fork] (c2321) edge[fork] (c2322) edge[fork] (c2323) edge[fork] (c2324);
\draw[stem] (c24.east) -- ++(18pt,0) (c24) edge[fork] (c241) edge[fork] (c242) edge[fork] (c243);
\draw (c241) edge[solo] (c2411) (c242) edge[solo] (c2421) (c243) edge[solo] (c2431);
\draw[stem] (c25.east) -- ++(18pt,0) (c25) edge[fork] (c251) edge[fork] (c252);
\draw (c251) edge[solo] (c2511) (c252) edge[solo] (c2521);
\draw[stem] (c3.east) -- ++(18pt,0) (c3) edge[fork] (c31) edge[fork] (c32) edge[fork] (c33);
\draw (c31) edge[solo] (c311);
\draw[stem] (c32.east) -- ++(18pt,0) (c32) edge[fork] (c321) edge[fork] (c322) edge[fork] (c323) edge[fork] (c324) edge[fork] (c325) edge[fork] (c326);
\draw[stem] (c33.east) -- ++(18pt,0) (c33) edge[fork] (c331) edge[fork] (c332) edge[fork] (c333) edge[fork] (c334) edge[fork] (c335);
\draw (c331) edge[solo] (c3311) (c333) edge[solo] (c3331) (c334) edge[solo] (c3341);
\draw[stem] (c332.east) -- ++(18pt,0) (c332) edge[fork] (c3321) edge[fork] (c3322);
\draw[stem] (c3341.east) -- ++(18pt,0) (c3341) edge[fork] (c33411) edge[fork] (c33412);
\draw[stem] (c335.east) -- ++(18pt,0) (c335) edge[fork] (c3351) edge[fork] (c3352) edge[fork] (c3353);
\draw[stem] (c4.east) -- ++(18pt,0) (c4) edge[fork] (c41) edge[fork] (c42) edge[fork] (c43);
\draw[stem] (c41.east) -- ++(18pt,0) (c41) edge[fork] (c411) edge[fork] (c412) edge[fork] (c413) edge[fork] (c414) edge[fork] (c415) edge[fork] (c416);
\draw (c411) edge[solo] (c4111) (c414) edge[solo] (c4141);
\draw[stem] (c412.east) -- ++(18pt,0) (c412) edge[fork] (c4121) edge[fork] (c4122);
\draw[stem] (c413.east) -- ++(18pt,0) (c413) edge[fork] (c4131) edge[fork] (c4132) edge[fork] (c4133) edge[fork] (c4134) edge[fork] (c4135) edge[fork] (c4136) edge[fork] (c4137);
\draw[stem] (c415.east) -- ++(18pt,0) (c415) edge[fork] (c4151) edge[fork] (c4152) edge[fork] (c4153) edge[fork] (c4154);
\draw[stem] (c416.east) -- ++(18pt,0) (c416) edge[fork] (c4161) edge[fork] (c4162) edge[fork] (c4163);
\draw[stem] (c42.east) -- ++(18pt,0) (c42) edge[fork] (c421) edge[fork] (c422) edge[fork] (c423);
\draw (c421) edge[solo] (c4211);
\draw[stem] (c422.east) -- ++(18pt,0) (c422) edge[fork] (c4221) edge[fork] (c4222) edge[fork] (c4223);
\draw[stem] (c423.east) -- ++(18pt,0) (c423) edge[fork] (c4231) edge[fork] (c4232) edge[fork] (c4233) edge[fork] (c4234);
\draw (c43) edge[solo] (c431);
\draw[stem] (c431.east) -- ++(18pt,0) (c431) edge[fork] (c4311) edge[fork] (c4312);
\draw[stem] (d.east) -- ++(18pt,0) (d) edge[fork] (d1) edge[fork] (d2);
\draw[stem] (d1.east) -- ++(18pt,0) (d1) edge[fork] (d11) edge[fork] (d12) edge[fork] (d13) edge[fork] (d14);
\draw[stem] (d11.east) -- ++(18pt,0) (d11) edge[fork] (d111) edge[fork] (d112) edge[fork] (d113);
\draw (d111) edge[solo] (d1111);
\draw[stem] (d112.east) -- ++(18pt,0) (d112) edge[fork] (d1121) edge[fork] (d1122) edge[fork] (d1123);
\draw (d1121) edge[solo] (d11211) (d1122) edge[solo] (d11221) (d1123) edge[solo] (d11231);
\draw[stem] (d113.east) -- ++(18pt,0) (d113) edge[fork] (d1131) edge[fork] (d1132);
\draw (d1131) edge[solo] (d11311) (d1132) edge[solo] (d11321);
\draw[stem] (d12.east) -- ++(18pt,0) (d12) edge[fork] (d121) edge[fork] (d122);
\draw[stem] (d13.east) -- ++(18pt,0) (d13) edge[fork] (d131) edge[fork] (d132) edge[fork] (d133);
\draw (d131) edge[solo] (d1311) (d132) edge[solo] (d1321) (d133) edge[solo] (d1331);
\draw[stem] (d14.east) -- ++(18pt,0) (d14) edge[fork] (d141) edge[fork] (d142) edge[fork] (d143);
\draw (d141) edge[solo] (d1411) (d142) edge[solo] (d1421) (d143) edge[solo] (d1431);
\draw[stem] (d2.east) -- ++(18pt,0) (d2) edge[fork] (d21) edge[fork] (d22);
\draw[stem] (d21.east) -- ++(18pt,0) (d21) edge[fork] (d211) edge[fork] (d212) edge[fork] (d213) edge[fork] (d214);
\draw[stem] (d211.east) -- ++(18pt,0) (d211) edge[fork] (d2111) edge[fork] (d2112) edge[fork] (d2113) edge[fork] (d2114) edge[fork] (d2115);
\draw[stem] (d212.east) -- ++(18pt,0) (d212) edge[fork] (d2121) edge[fork] (d2122);
\draw[stem] (d2121.east) -- ++(18pt,0) (d2121) edge[fork] (d21211) edge[fork] (d21212) edge[fork] (d21213) edge[fork] (d21214);
\draw (d2122) edge[solo] (d21221);
\draw[stem] (d213.east) -- ++(18pt,0) (d213) edge[fork] (d2131) edge[fork] (d2132) edge[fork] (d2133);
\draw[stem] (d214.east) -- ++(18pt,0) (d214) edge[fork] (d2141) edge[fork] (d2142);
\draw (d2141) edge[solo] (d21411) (d2142) edge[solo] (d21421);
\draw[stem] (d22.east) -- ++(18pt,0) (d22) edge[fork] (d221) edge[fork] (d222) edge[fork] (d223);
\draw[stem] (d221.east) -- ++(18pt,0) (d221) edge[fork] (d2211) edge[fork] (d2212) edge[fork] (d2213) edge[fork] (d2214);
\draw (d2211) edge[solo] (d22111) (d2212) edge[solo] (d22121) (d2213) edge[solo] (d22131) (d2214) edge[solo] (d22141);
\draw[stem] (d222.east) -- ++(18pt,0) (d222) edge[fork] (d2221) edge[fork] (d2222) edge[fork] (d2223);
\draw (d2221) edge[solo] (d22211) (d2222) edge[solo] (d22221) (d2223) edge[solo] (d22231);
\draw[stem] (d223.east) -- ++(18pt,0) (d223) edge[fork] (d2231) edge[fork] (d2232) edge[fork] (d2233) edge[fork] (d2234) edge[fork] (d2235) edge[fork] (d2236) edge[fork] (d2237);
\draw (d2231) edge[solo] (d22311) (d2232) edge[solo] (d22321) (d2233) edge[solo] (d22331) (d2234) edge[solo] (d22341) (d2235) edge[solo] (d22351) (d2236) edge[solo] (d22361) (d2237) edge[solo] (d22371);
\end{tikzpicture}
\end{document}
